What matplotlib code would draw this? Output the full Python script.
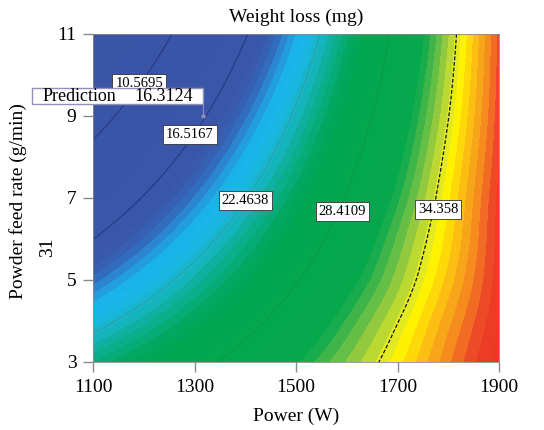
import numpy as np
import matplotlib
matplotlib.use("Agg")
import matplotlib.pyplot as plt
import matplotlib.tri as mtri
from matplotlib.colors import LinearSegmentedColormap, Normalize
from matplotlib.patches import Rectangle

plt.rcParams['font.family'] = ['Liberation Serif', 'DejaVu Serif']

# grid: weight loss (mg)
power = [1100, 1200, 1300, 1400, 1500, 1600, 1700, 1800, 1900]
feed = [3, 4, 5, 6, 7, 8, 9, 10, 11]
weight_loss = [
    [24.35, 25.91, 27.60, 29.41, 31.35, 33.20, 35.10, 37.40, 39.60],   # 3
    [21.67, 23.51, 25.47, 27.56, 29.77, 32.11, 34.30, 36.80, 39.20],   # 4
    [19.05, 21.16, 23.40, 25.76, 28.25, 30.86, 33.40, 36.10, 39.00],   # 5
    [16.49, 18.88, 21.39, 24.03, 26.79, 29.68, 32.69, 35.60, 38.90],   # 6
    [14.00, 16.66, 19.45, 22.36, 25.40, 28.56, 31.85, 35.20, 38.80],   # 7
    [11.57, 14.51, 17.57, 20.76, 24.07, 27.51, 31.07, 34.76, 38.57],   # 8
    [9.20, 12.41, 15.75, 19.21, 22.80, 26.51, 30.35, 34.31, 38.40],    # 9
    [6.89, 10.38, 13.99, 17.73, 21.59, 25.58, 29.69, 33.93, 38.29],    # 10
    [4.65, 8.41, 12.30, 16.31, 20.45, 24.71, 29.10, 33.61, 38.25],     # 11
]

contour_levels = [10.5695, 16.5167, 22.4638, 28.4109, 34.358]
contour_labels = ["10.5695", "16.5167", "22.4638", "28.4109", "34.358"]
label_power = [1191, 1291, 1400, 1591, 1780]
label_feed = [9.80, 8.54, 6.93, 6.68, 6.71]

pred_power = 1316
pred_feed = 9.0
pred_text = "16.3124"

# colour stops (value, colour)
stops = [
    (4.6, "#3a54a6"), (17.8, "#3a56a8"), (19.0, "#3468b9"), (19.8, "#2a8ad3"),
    (20.6, "#1ab2e9"), (21.6, "#1ab8ea"), (22.8, "#17b4c2"), (24.0, "#0cae8c"),
    (25.2, "#02a860"), (26.3, "#00a651"), (31.5, "#06a84e"), (32.6, "#4fb848"),
    (33.6, "#9fcc3c"), (34.5, "#e2ea22"), (35.1, "#fff200"), (36.0, "#fdc80f"),
    (36.8, "#f8a21a"), (37.5, "#f58220"), (38.1, "#ef5a28"), (38.7, "#ec3d26"),
    (40.4, "#ea3424"),
]
vmin, vmax = stops[0][0], stops[-1][0]
cmap = LinearSegmentedColormap.from_list(
    "de", [((v - vmin) / (vmax - vmin), c) for v, c in stops], N=1024)

fig = plt.figure(figsize=(5.44, 4.30), dpi=100)
ax = fig.add_axes([93 / 544, 68 / 430, 406 / 544, 328 / 430])

PP, FF = np.meshgrid(power, feed)
tri = mtri.Triangulation(PP.ravel(), FF.ravel())
refiner = mtri.UniformTriRefiner(tri)
tri_r, z_r = refiner.refine_field(np.array(weight_loss).ravel(), subdiv=4)

ax.tricontourf(tri_r, z_r, levels=np.arange(4.0, 41.0, 0.55), cmap=cmap,
               norm=Normalize(vmin, vmax))
ax.tricontour(tri_r, z_r, levels=contour_levels,
              colors=["#26378c", "#26378c", "#2aa39c", "#0c9a48", "#111111"],
              linewidths=[0.8, 0.8, 0.8, 0.8, 0.9],
              linestyles=["solid", "solid", "solid", "solid", (0, (3, 1.5))])

for px, fy, t in zip(label_power, label_feed, contour_labels):
    ax.text(px, fy, t, ha="center", va="center", fontsize=10.5, zorder=5,
            bbox=dict(boxstyle="square,pad=0.2", fc="white", ec="#333333", lw=0.6))

# prediction flag
ax.add_patch(Rectangle((980, 9.29), pred_power - 980, 0.39, fc="white",
                       ec="#9090b8", lw=1.0, clip_on=False, zorder=6))
ax.text(1001, 9.485, "Prediction", ha="left", va="center", fontsize=13, zorder=7,
        clip_on=False)
ax.text(1297, 9.485, pred_text, ha="right", va="center", fontsize=13, zorder=7)
ax.plot([pred_power, pred_power], [9.29, pred_feed], color="#9090b8", lw=0.8, zorder=6)
ax.plot(pred_power, pred_feed, "o", ms=2, color="#9090b8", zorder=6)

ax.set_xlim(1100, 1900)
ax.set_ylim(3, 11)
ax.set_xticks([1100, 1300, 1500, 1700, 1900])
ax.set_yticks([3, 5, 7, 9, 11])
ax.tick_params(direction="out", length=7, width=1, color="#8a8a8a",
               labelsize=14, pad=5)
for s in ax.spines.values():
    s.set_color("#8a8a8a")
    s.set_linewidth(0.6)

fig.text(296 / 544, 1 - 17 / 430, "Weight loss (mg)", ha="center", va="center", fontsize=14)
fig.text(296 / 544, 1 - 416 / 430, "Power (W)", ha="center", va="center", fontsize=14)
fig.text(18 / 544, 1 - 201 / 430, "Powder feed rate (g/min)", ha="center", va="center",
         rotation=90, fontsize=14)
fig.text(48 / 544, 1 - 247 / 430, "31", ha="center", va="center", rotation=90, fontsize=14)

fig.savefig("out.png", dpi=100)
